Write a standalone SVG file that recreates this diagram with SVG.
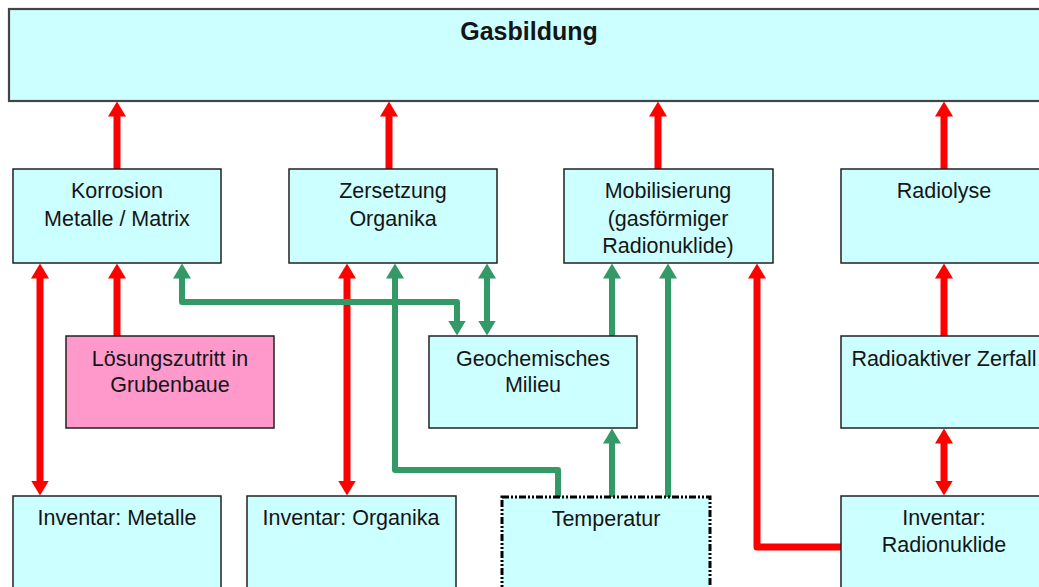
<svg xmlns="http://www.w3.org/2000/svg" width="1039" height="587" viewBox="0 0 1039 587">
<style>
.box{fill:#CCFFFF;stroke:#222;stroke-width:1.5}
.pink{fill:#FF99CC;stroke:#222;stroke-width:1.5}
.top{fill:#CCFFFF;stroke:#444;stroke-width:2.2}
.temp{fill:#CCFFFF;stroke:#000;stroke-width:3;stroke-dasharray:7 2 2 2 2 2}
text{font-family:"Liberation Sans",Arial,sans-serif;font-size:21.5px;fill:#151515;text-anchor:middle}
.title{font-size:25px;font-weight:bold}
.red{fill:none;stroke:#FF0000;stroke-width:7;stroke-linejoin:round}
.green{fill:none;stroke:#339966;stroke-width:6;stroke-linejoin:round}
</style>
<defs>
<marker id="ar" markerUnits="userSpaceOnUse" viewBox="0 0 16 18" markerWidth="16" markerHeight="18" refX="0.5" refY="9" orient="auto-start-reverse"><path d="M0,0 L15,9 L0,18 z" fill="#FF0000"/></marker>
<marker id="ag" markerUnits="userSpaceOnUse" viewBox="0 0 16 18" markerWidth="16" markerHeight="18" refX="0.5" refY="9" orient="auto-start-reverse"><path d="M0,0 L15,9 L0,18 z" fill="#339966"/></marker>
</defs>
<rect width="1039" height="587" fill="#fff"/>

<g id="connectors">
<line class="red" x1="117" y1="169" x2="117" y2="116" marker-end="url(#ar)"/>
<line class="red" x1="389" y1="169" x2="389" y2="116" marker-end="url(#ar)"/>
<line class="red" x1="658" y1="169" x2="658" y2="116" marker-end="url(#ar)"/>
<line class="red" x1="944" y1="169" x2="944" y2="116" marker-end="url(#ar)"/>
<line class="red" x1="944" y1="336" x2="944" y2="278" marker-end="url(#ar)"/>
<line class="red" x1="944" y1="443" x2="944" y2="481" marker-start="url(#ar)" marker-end="url(#ar)"/>
<line class="red" x1="40" y1="278" x2="40" y2="481" marker-start="url(#ar)" marker-end="url(#ar)"/>
<line class="red" x1="117" y1="336" x2="117" y2="278" marker-end="url(#ar)"/>
<line class="red" x1="347" y1="278" x2="347" y2="481" marker-start="url(#ar)" marker-end="url(#ar)"/>
<path class="red" d="M841,547 H757 V278" marker-end="url(#ar)"/>
<path class="green" d="M182,278 V302 H457 V321" marker-start="url(#ag)" marker-end="url(#ag)"/>
<line class="green" x1="487" y1="278" x2="487" y2="321" marker-start="url(#ag)" marker-end="url(#ag)"/>
<line class="green" x1="612" y1="336" x2="612" y2="278" marker-end="url(#ag)"/>
<path class="green" d="M558,497 V470 H395 V278" marker-end="url(#ag)"/>
<line class="green" x1="612" y1="497" x2="612" y2="443" marker-end="url(#ag)"/>
<line class="green" x1="668" y1="497" x2="668" y2="278" marker-end="url(#ag)"/>
</g>

<g id="gasbildung"><rect class="top" x="9" y="9" width="1040" height="92"/><text class="title" x="529" y="40">Gasbildung</text></g>
<g id="korrosion"><rect class="box" x="13" y="169" width="208" height="94"/><text x="117" y="198">Korrosion</text><text x="117" y="226">Metalle / Matrix</text></g>
<g id="zersetzung"><rect class="box" x="289" y="169" width="208" height="94"/><text x="393" y="198">Zersetzung</text><text x="393" y="226">Organika</text></g>
<g id="mobilisierung"><rect class="box" x="564" y="169" width="209" height="94"/><text x="668" y="198">Mobilisierung</text><text x="668" y="226">(gasförmiger</text><text x="668" y="253">Radionuklide)</text></g>
<g id="radiolyse"><rect class="box" x="841" y="169" width="208" height="94"/><text x="944" y="198">Radiolyse</text></g>
<g id="loesung"><rect class="pink" x="66" y="336" width="208" height="92"/><text x="170" y="366">Lösungszutritt in</text><text x="170" y="392">Grubenbaue</text></g>
<g id="geochem"><rect class="box" x="429" y="336" width="208" height="92"/><text x="533" y="366">Geochemisches</text><text x="533" y="392">Milieu</text></g>
<g id="zerfall"><rect class="box" x="841" y="336" width="208" height="92"/><text x="944" y="366">Radioaktiver Zerfall</text></g>
<g id="inv-metalle"><rect class="box" x="13" y="496" width="208" height="120"/><text x="117" y="525">Inventar: Metalle</text></g>
<g id="inv-organika"><rect class="box" x="247" y="496" width="209" height="120"/><text x="351" y="525">Inventar: Organika</text></g>
<g id="temperatur"><rect class="temp" x="502" y="497" width="208" height="120"/><text x="606" y="526">Temperatur</text></g>
<g id="inv-radio"><rect class="box" x="841" y="496" width="208" height="120"/><text x="944" y="525">Inventar:</text><text x="944" y="552">Radionuklide</text></g>
</svg>
